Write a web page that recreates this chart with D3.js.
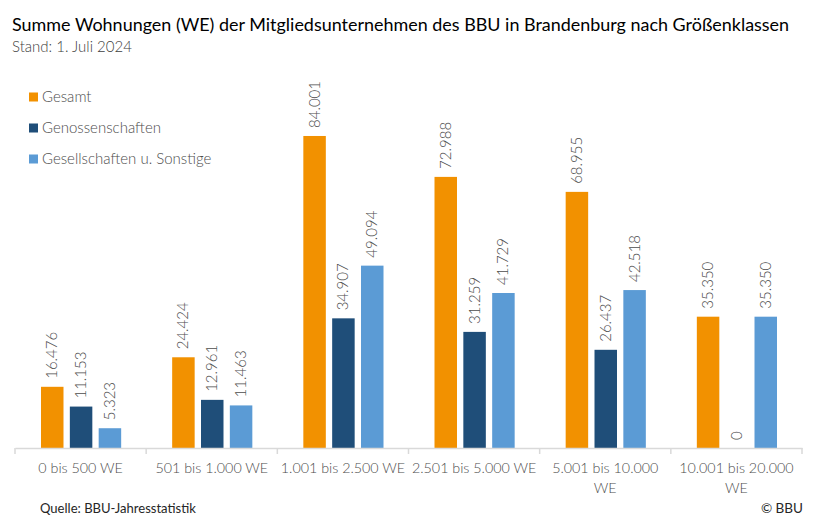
<!DOCTYPE html>
<html><head><meta charset="utf-8">
<script src="https://cdn.jsdelivr.net/npm/d3@7"></script>
<style>
body{margin:0;background:#fff;}
svg{display:block;font-family:Lato,"Open Sans",sans-serif;}
</style></head>
<body><svg id="c" width="826" height="527"></svg>
<script>
const categories = ["0 bis 500 WE","501 bis 1.000 WE","1.001 bis 2.500 WE","2.501 bis 5.000 WE","5.001 bis 10.000 WE","10.001 bis 20.000 WE"];
const seriesNames = ["Gesamt","Genossenschaften","Gesellschaften u. Sonstige"];
const gesamt = [16476,24424,84001,72988,68955,35350];
const genossenschaften = [11153,12961,34907,31259,26437,0];
const gesellschaften = [5323,11463,49094,41729,42518,35350];
const colors = ["#F29100","#1F4E79","#5B9BD5"];
const title = "Summe Wohnungen (WE) der Mitgliedsunternehmen des BBU in Brandenburg nach Größenklassen";
const subtitle = "Stand: 1. Juli 2024";
const source = "Quelle: BBU-Jahresstatistik";
const copyright = "© BBU";

const series = [gesamt, genossenschaften, gesellschaften];
const svg = d3.select("#c");
const fmt = d3.formatLocale({decimal:",",thousands:".",grouping:[3],currency:["","€"]}).format(",d");

const x0 = d3.scaleBand().domain(categories).range([15,802]).paddingInner(0).paddingOuter(0);
const x1 = d3.scaleBand().domain(seriesNames).range([26, x0.bandwidth()-25]).paddingInner(0.22).paddingOuter(0);
const y = d3.scaleLinear().domain([0,90000]).range([448, 448-334.3]);

function fitText(sel, size, maxW){
  sel.attr("font-size", size);
  const w = sel.node().getComputedTextLength();
  if (w > maxW) sel.attr("font-size", size*maxW/w);
}

// title
const t = svg.append("text").attr("x",12).attr("y",31).attr("fill","#000").text(title);
fitText(t, 21, 778);
const st = svg.append("text").attr("x",12).attr("y",52).attr("fill","#404040").attr("font-weight",300).text(subtitle);
fitText(st, 15, 121);

// bars
const g = svg.append("g");
categories.forEach((c,i)=>{
  seriesNames.forEach((s,j)=>{
    const v = series[j][i];
    const bx = x0(c)+x1(s);
    g.append("rect").attr("x",bx).attr("y",y(v)).attr("width",x1.bandwidth()).attr("height",y(0)-y(v)).attr("fill",colors[j]);
    const lx = bx + x1.bandwidth()/2 + 5;
    const ly = y(v) - 8;
    g.append("text").attr("transform",`translate(${lx},${ly}) rotate(-90)`)
      .attr("font-size",15).attr("font-weight",300).attr("fill","#4d4d4d").text(fmt(v));
  });
});

// axis
const axis = d3.axisBottom(x0).tickSize(0).tickFormat("");
const ag = svg.append("g").attr("transform","translate(0,448)").call(axis);
ag.select(".domain").attr("stroke","#d9d9d9").attr("stroke-width",1.5);
const bounds = categories.map(c=>x0(c)).concat([x0.range()[1]]);
ag.selectAll(".bt").data(bounds).enter().append("line").attr("class","bt")
  .attr("x1",d=>d).attr("x2",d=>d).attr("y1",0).attr("y2",6).attr("stroke","#d9d9d9").attr("stroke-width",1.5);

// category labels with wrapping
const lblSize = 14.3;
categories.forEach(c=>{
  const cx = x0(c)+x0.bandwidth()/2;
  const txt = svg.append("text").attr("x",cx).attr("y",473).attr("text-anchor","middle")
    .attr("font-size",lblSize).attr("font-weight",300).attr("fill","#4d4d4d");
  const words = c.split(" ");
  let line=[], lines=[];
  const probe = svg.append("text").attr("font-size",lblSize).attr("font-weight",300);
  words.forEach(w=>{
    const test = line.concat([w]).join(" ");
    probe.text(test);
    if (probe.node().getComputedTextLength() > 127 && line.length){ lines.push(line.join(" ")); line=[w]; }
    else line.push(w);
  });
  lines.push(line.join(" "));
  probe.remove();
  lines.forEach((l,k)=>txt.append("tspan").attr("x",cx).attr("dy",k?19.5:0).text(l));
});

// legend
const lg = svg.append("g");
seriesNames.forEach((s,j)=>{
  const ly = 97 + j*31;
  lg.append("rect").attr("x",29).attr("y",ly-4.5).attr("width",9).attr("height",9).attr("fill",colors[j]);
  lg.append("text").attr("x",42).attr("y",ly+5).attr("font-size",15).attr("font-weight",300).attr("fill","#4d4d4d").text(s);
});

// footer
const src = svg.append("text").attr("x",40).attr("y",513).attr("fill","#262626").text(source);
fitText(src, 14, 156);
svg.append("text").attr("x",803).attr("y",513).attr("text-anchor","end").attr("fill","#262626")
  .attr("font-size",13.5).text(copyright);
</script></body></html>
